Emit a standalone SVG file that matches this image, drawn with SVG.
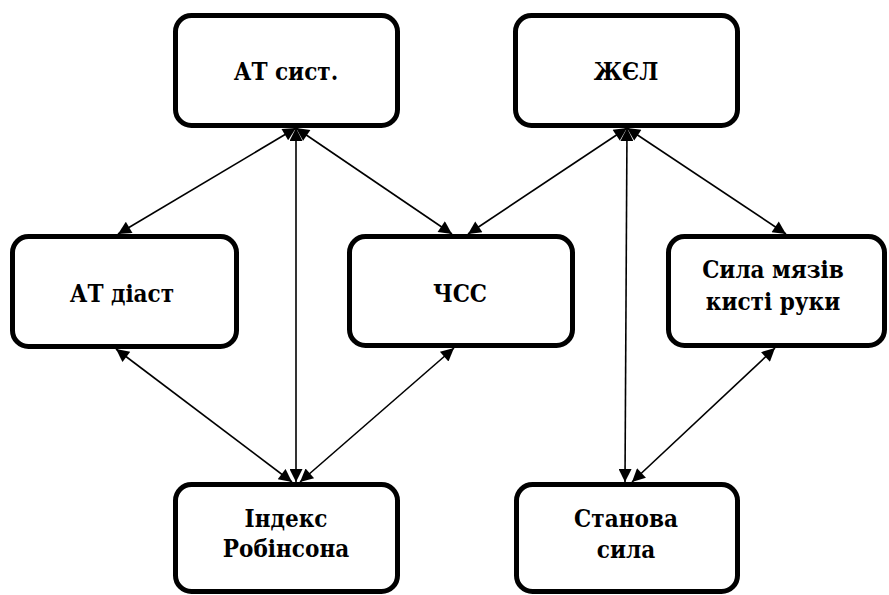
<svg xmlns="http://www.w3.org/2000/svg" width="889" height="595" viewBox="0 0 889 595">
  <style>
    .box { fill: #ffffff; stroke: #000000; stroke-width: 5; }
    .lbl { font-family: "DejaVu Serif Condensed", "DejaVu Serif", serif; font-stretch: condensed; font-weight: 700; font-size: 24px; fill: #000000; text-anchor: middle; }
    .link { stroke: #000000; stroke-width: 1.6; fill: none; marker-start: url(#ah); marker-end: url(#ah); }
  </style>
  <defs>
    <marker id="ah" viewBox="0 0 10 10" refX="10" refY="5" markerWidth="15" markerHeight="13" markerUnits="userSpaceOnUse" orient="auto-start-reverse">
      <path d="M0,0 L10,5 L0,10 z" fill="#000000"/>
    </marker>
  </defs>
  <rect width="889" height="595" fill="#ffffff"/>

  <g id="n-at-syst">
    <rect class="box" x="175.5" y="15.5" width="222" height="110" rx="16"/>
    <text class="lbl" x="286" y="80">АТ сист.</text>
  </g>
  <g id="n-zhel">
    <rect class="box" x="515.5" y="15.5" width="222" height="110" rx="16"/>
    <text class="lbl" x="626" y="80">ЖЄЛ</text>
  </g>
  <g id="n-at-diast">
    <rect class="box" x="12.5" y="236.5" width="224" height="110" rx="16"/>
    <text class="lbl" x="122" y="302">АТ діаст</text>
  </g>
  <g id="n-chss">
    <rect class="box" x="349.5" y="236.5" width="223" height="109" rx="16"/>
    <text class="lbl" x="460" y="302">ЧСС</text>
  </g>
  <g id="n-syla">
    <rect class="box" x="668.5" y="236.5" width="216" height="109" rx="16"/>
    <text class="lbl" x="773" y="278">Сила мязів</text>
    <text class="lbl" x="773" y="310">кисті руки</text>
  </g>
  <g id="n-robinson">
    <rect class="box" x="175.5" y="484.5" width="222" height="107" rx="16"/>
    <text class="lbl" x="286" y="527">Індекс</text>
    <text class="lbl" x="286" y="557">Робінсона</text>
  </g>
  <g id="n-stanova">
    <rect class="box" x="516.5" y="484.5" width="221" height="107" rx="16"/>
    <text class="lbl" x="626" y="527">Станова</text>
    <text class="lbl" x="626" y="558">сила</text>
  </g>

  <g id="connectors">
    <line class="link" x1="296" y1="128" x2="118" y2="234"/>
    <line class="link" x1="296" y1="128" x2="296" y2="482"/>
    <line class="link" x1="296" y1="128" x2="452" y2="234"/>
    <line class="link" x1="627" y1="128" x2="468" y2="234"/>
    <line class="link" x1="627" y1="128" x2="786" y2="234"/>
    <line class="link" x1="627" y1="128" x2="625" y2="482"/>
    <line class="link" x1="116" y1="349" x2="292" y2="482"/>
    <line class="link" x1="454" y1="348" x2="300" y2="482"/>
    <line class="link" x1="775" y1="348" x2="632" y2="482"/>
  </g>
</svg>
